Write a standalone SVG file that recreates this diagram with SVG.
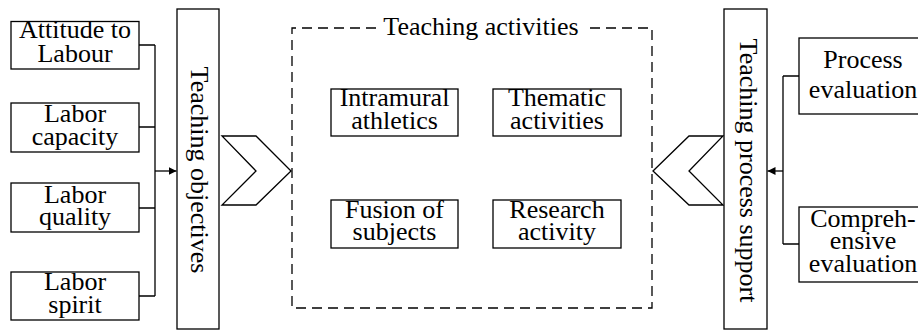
<svg xmlns="http://www.w3.org/2000/svg" width="918" height="331" viewBox="0 0 918 331">
<style>
.box{fill:#fff;stroke:#000;stroke-width:1.3}
.ln{fill:none;stroke:#000;stroke-width:1.3}
.dash{fill:none;stroke:#000;stroke-width:1.3;stroke-dasharray:10 6}
text{font-family:"Liberation Serif","Times New Roman",serif;font-size:26px;fill:#000;text-anchor:middle}
</style>
<defs>
<marker id="arr" viewBox="0 0 10 10" refX="10" refY="5" markerWidth="8" markerHeight="8" markerUnits="userSpaceOnUse" orient="auto">
<path d="M0,0 L10,5 L0,10 Z" fill="#000"/>
</marker>
</defs>
<rect width="918" height="331" fill="#fff"/>
<g id="connectors">
<path class="ln" d="M139,45 H155 M139,127 H155 M139,208 H155 M139,296 H155 M155,45 V296"/>
<line class="ln" x1="155" y1="171" x2="176.5" y2="171" marker-end="url(#arr)"/>
<path class="ln" d="M799,76 H783 M799,244 H783 M783,76 V244"/>
<line class="ln" x1="783" y1="171" x2="767.5" y2="171" marker-end="url(#arr)"/>
<polygon class="box" points="222,136 256,136 291,171 256,205 222,205 256,171"/>
<polygon class="box" points="653,171 689,136 723,136 689,171 723,205 689,205"/>
</g>
<g id="activities">
<path class="dash" d="M376,28 H292 V308 H652 V28 H588"/>
<text x="481" y="35">Teaching activities</text>
</g>
<g id="attitude"><rect class="box" x="11" y="21.5" width="128" height="47.5"/><text x="75" y="38">Attitude to</text><text x="75" y="62">Labour</text></g>
<g id="capacity"><rect class="box" x="11" y="103" width="128" height="49"/><text x="75" y="122">Labor</text><text x="75" y="145">capacity</text></g>
<g id="quality"><rect class="box" x="11" y="183" width="128" height="49"/><text x="75" y="203">Labor</text><text x="75" y="225">quality</text></g>
<g id="spirit"><rect class="box" x="11" y="272" width="128" height="48"/><text x="75" y="290">Labor</text><text x="75" y="313">spirit</text></g>
<g id="objectives"><rect class="box" x="177" y="9" width="42" height="320"/><text transform="translate(191,170) rotate(90)">Teaching objectives</text></g>
<g id="intramural"><rect class="box" x="331" y="89" width="127" height="47"/><text x="394.5" y="106">Intramural</text><text x="394.5" y="129">athletics</text></g>
<g id="thematic"><rect class="box" x="493" y="89" width="128" height="47"/><text x="557" y="106">Thematic</text><text x="557" y="129">activities</text></g>
<g id="fusion"><rect class="box" x="331" y="200" width="127" height="48"/><text x="394.5" y="218">Fusion of</text><text x="394.5" y="240">subjects</text></g>
<g id="research"><rect class="box" x="493" y="200" width="128" height="48"/><text x="557" y="218">Research</text><text x="557" y="240">activity</text></g>
<g id="support"><rect class="box" x="724" y="9" width="43" height="320"/><text transform="translate(740,170.5) rotate(90)">Teaching process support</text></g>
<g id="process"><rect class="box" x="799" y="38" width="128" height="76"/><text x="863" y="68">Process</text><text x="863" y="98">evaluation</text></g>
<g id="comprehensive"><rect class="box" x="799" y="207" width="128" height="75"/><text x="863" y="227">Compreh-</text><text x="863" y="249">ensive</text><text x="863" y="272">evaluation</text></g>
</svg>
